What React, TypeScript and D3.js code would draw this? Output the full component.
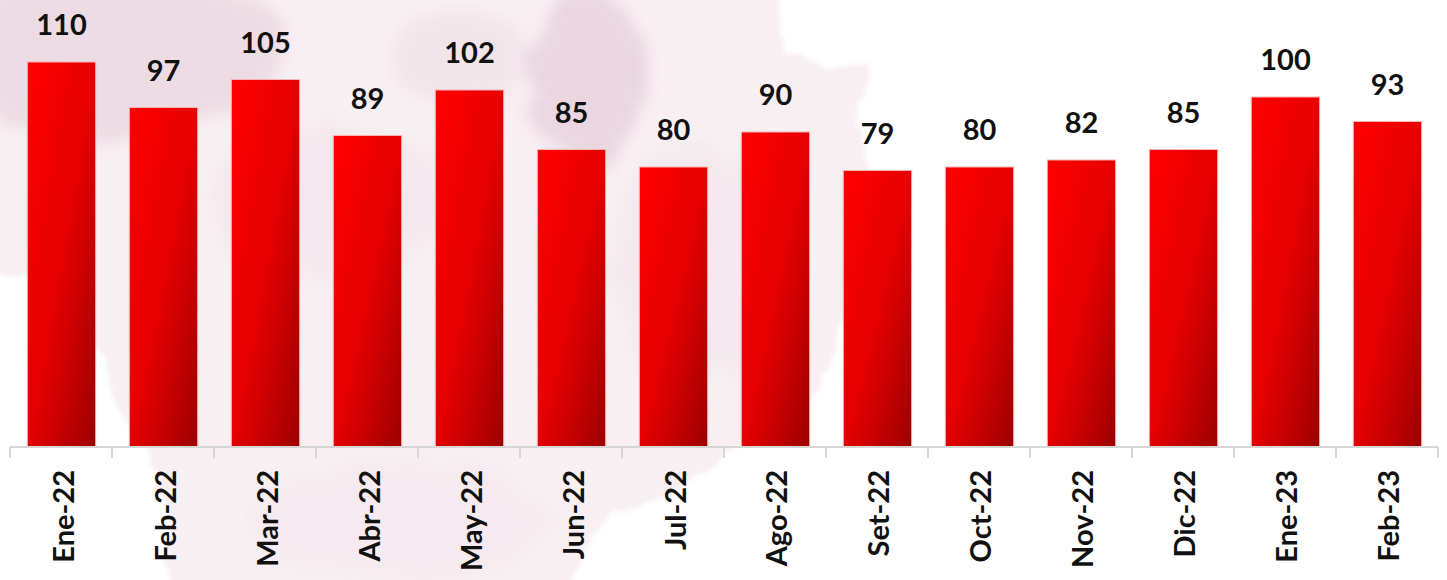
import * as d3 from 'd3';

const months = ['Ene-22', 'Feb-22', 'Mar-22', 'Abr-22', 'May-22', 'Jun-22', 'Jul-22', 'Ago-22', 'Set-22', 'Oct-22', 'Nov-22', 'Dic-22', 'Ene-23', 'Feb-23'];
const values = [110, 97, 105, 89, 102, 85, 80, 90, 79, 80, 82, 85, 100, 93];

const width = 1447;
const height = 580;
const font = 'Lato, "Open Sans", sans-serif';

export default function App() {
  const x = d3.scaleBand<string>()
    .domain(months)
    .range([10, 1439])
    .paddingInner(0.33)
    .paddingOuter(0.17);
  const y = d3.scaleLinear().domain([0, 110]).range([447, 62]);

  const step = x.step();
  const start = (x(months[0]) ?? 0) - step * 0.17;
  const ticks = d3.range(months.length + 1).map(i => start + i * step);

  return (
    <svg width={width} height={height} style={{ position: 'absolute', left: 0, top: 0, background: '#fff' }}>
      <defs>
        <linearGradient id="bar" x1="0" y1="0" x2="1" y2="1">
          <stop offset="0" stopColor="#ff0000" />
          <stop offset="0.5" stopColor="#e60000" />
          <stop offset="1" stopColor="#9c0000" />
        </linearGradient>
        <filter id="wash" x="-10%" y="-10%" width="120%" height="120%">
          <feTurbulence type="fractalNoise" baseFrequency="0.012" numOctaves="4" seed="3" result="n" />
          <feDisplacementMap in="SourceGraphic" in2="n" scale="45" xChannelSelector="R" yChannelSelector="G" result="d" />
          <feGaussianBlur in="d" stdDeviation="2" />
        </filter>
        <filter id="soft" x="-30%" y="-30%" width="160%" height="160%">
          <feTurbulence type="fractalNoise" baseFrequency="0.02" numOctaves="3" seed="7" result="n" />
          <feDisplacementMap in="SourceGraphic" in2="n" scale="40" xChannelSelector="R" yChannelSelector="G" result="d" />
          <feGaussianBlur in="d" stdDeviation="8" />
        </filter>
      </defs>

      {/* watercolor wash */}
      <g filter="url(#wash)">
        <path
          d="M-20,-20 L770,-20 L790,60 L870,70 L860,160 L875,250 L840,330 L815,390 L720,470 L610,520 L560,600 L175,600 L160,470 L125,430 L100,340 L40,290 L-20,260 Z"
          fill="#f8eff3"
        />
      </g>
      <g filter="url(#soft)" opacity={0.9}>
        <ellipse cx={110} cy={50} rx={170} ry={90} fill="#ecdbe3" />
        <ellipse cx={590} cy={80} rx={55} ry={90} fill="#e8d4de" />
        <ellipse cx={460} cy={60} rx={70} ry={45} fill="#f1e4ea" />
        <ellipse cx={330} cy={200} rx={120} ry={80} fill="#f3e8ed" />
        <ellipse cx={700} cy={260} rx={90} ry={120} fill="#f3e9ee" />
        <ellipse cx={400} cy={520} rx={150} ry={60} fill="#f4eaef" />
      </g>

      {/* bars */}
      {months.map((m, i) => (
        <rect
          key={m}
          x={x(m)}
          y={y(values[i])}
          width={x.bandwidth()}
          height={y(0) - y(values[i])}
          fill="url(#bar)"
          stroke="#f7b2b2"
          strokeWidth={1}
        />
      ))}

      {/* value labels */}
      {months.map((m, i) => (
        <text
          key={m}
          x={(x(m) ?? 0) + x.bandwidth() / 2}
          y={y(values[i]) - 27}
          textAnchor="middle"
          fontFamily={font}
          fontWeight="bold"
          fontSize={29}
          fill="#111"
        >
          {values[i]}
        </text>
      ))}

      {/* axis */}
      <line x1={ticks[0]} x2={ticks[ticks.length - 1]} y1={447} y2={447} stroke="#d6d6d6" strokeWidth={2} />
      {ticks.map((t, i) => (
        <line key={i} x1={t} x2={t} y1={447} y2={458} stroke="#d6d6d6" strokeWidth={2} />
      ))}

      {months.map(m => (
        <text
          key={m}
          transform={`translate(${(x(m) ?? 0) + x.bandwidth() / 2 + 12}, 470) rotate(-90)`}
          textAnchor="end"
          fontFamily={font}
          fontWeight="bold"
          fontSize={29}
          fill="#111"
        >
          {m}
        </text>
      ))}
    </svg>
  );
}
